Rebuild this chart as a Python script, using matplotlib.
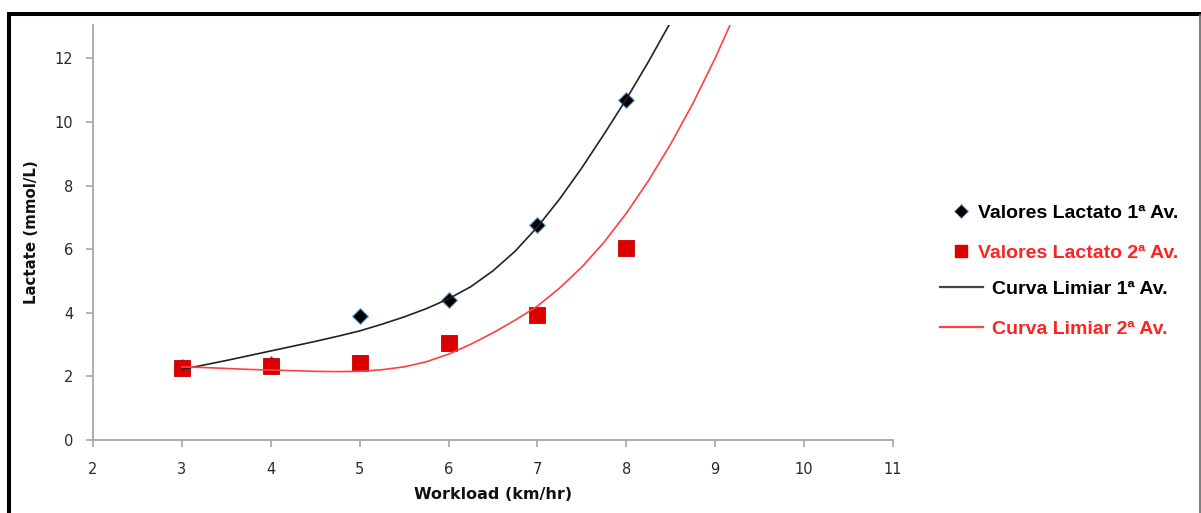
import matplotlib
matplotlib.use("Agg")
import matplotlib.pyplot as plt
from matplotlib.lines import Line2D

# measured points
workload = [3, 4, 5, 6, 7, 8]
lactate_av1 = [2.30, 2.40, 3.90, 4.40, 6.76, 10.68]
lactate_av2 = [2.26, 2.34, 2.43, 3.04, 3.93, 6.03]

# threshold curves
curve1_x = [3.0, 3.25, 3.5, 3.75, 4.0, 4.25, 4.5, 4.75, 5.0, 5.25, 5.5, 5.75,
            6.0, 6.25, 6.5, 6.75, 7.0, 7.25, 7.5, 7.75, 8.0, 8.25, 8.5]
curve1_y = [2.22, 2.36, 2.50, 2.65, 2.80, 2.95, 3.10, 3.26, 3.43, 3.64, 3.87, 4.13,
            4.44, 4.82, 5.32, 5.94, 6.70, 7.58, 8.56, 9.62, 10.72, 11.90, 13.15]
curve2_x = [3.0, 3.25, 3.5, 3.75, 4.0, 4.25, 4.5, 4.75, 5.0, 5.25, 5.5, 5.75,
            6.0, 6.25, 6.5, 6.75, 7.0, 7.25, 7.5, 7.75, 8.0, 8.25, 8.5, 8.75,
            9.0, 9.25]
curve2_y = [2.30, 2.28, 2.25, 2.22, 2.20, 2.18, 2.16, 2.15, 2.16, 2.21, 2.30, 2.46,
            2.70, 3.01, 3.37, 3.77, 4.21, 4.78, 5.44, 6.22, 7.13, 8.16, 9.31, 10.59,
            12.01, 13.57]

labels = ["Valores Lactato 1ª Av.", "Valores Lactato 2ª Av.",
          "Curva Limiar 1ª Av.", "Curva Limiar 2ª Av."]

W, H = 1201, 513
fig = plt.figure(figsize=(W / 100, H / 100), dpi=100)
ax = fig.add_axes([93 / W, 1 - 440 / H, 800 / W, 415 / H])

red_mark = "#DD0000"
red_line = "#FF4040"
red_text = "#FF2222"

ax.plot(workload, lactate_av1, linestyle="none", marker="D", markersize=8,
        color="black", markeredgecolor="#6FA8DC", markeredgewidth=0.8, zorder=3)
ax.plot(workload, lactate_av2, linestyle="none", marker="s", markersize=11,
        color=red_mark, markeredgecolor="#C00000", markeredgewidth=0.6, zorder=4)
ax.plot(curve1_x, curve1_y, color="#222222", linewidth=1.2, zorder=5)
ax.plot(curve2_x, curve2_y, color=red_line, linewidth=1.2, zorder=5)

ax.set_xlim(2, 11)
ax.set_ylim(0, 13.05)
ax.set_xticks(range(2, 12))
ax.set_yticks(range(0, 13, 2))

for side in ["top", "right"]:
    ax.spines[side].set_visible(False)
for side in ["left", "bottom"]:
    ax.spines[side].set_color("#A6A6A6")
    ax.spines[side].set_linewidth(1.3)

ax.tick_params(axis="both", direction="out", length=5, width=1.2,
               color="#A6A6A6", labelsize=10.5, labelcolor="#2A2A2A")
ax.tick_params(axis="y", pad=9)
ax.tick_params(axis="x", pad=10.5)

ax.set_ylabel("Lactate (mmol/L)", fontsize=10.8, fontweight="bold", color="#111111")
ax.yaxis.set_label_coords(-0.068, 0.5)
ax.set_xlabel("Workload (km/hr)", fontsize=11.5, fontweight="bold", color="#111111",
              va="top")
ax.xaxis.set_label_coords(0.5, -0.113)

legend_font = {"family": "Liberation Sans", "weight": "bold", "size": 14}

marker_handles = [
    Line2D([], [], linestyle="none", marker="D", markersize=7, color="black",
           markeredgecolor="#6FA8DC", markeredgewidth=0.6),
    Line2D([], [], linestyle="none", marker="s", markersize=9, color=red_mark),
]
fig.legend(marker_handles, labels[:2], loc="upper left",
           bbox_to_anchor=(952 / W, 1 - 204 / H), frameon=False,
           prop=legend_font, handlelength=0.9, handletextpad=0.45,
           borderpad=0, borderaxespad=0, labelspacing=1.15,
           labelcolor=["black", red_text])

line_handles = [
    Line2D([], [], color="#444444", linewidth=1.6),
    Line2D([], [], color=red_line, linewidth=1.6),
]
fig.legend(line_handles, labels[2:], loc="upper left",
           bbox_to_anchor=(940 / W, 1 - 280 / H), frameon=False,
           prop=legend_font, handlelength=2.2, handletextpad=0.5,
           borderpad=0, borderaxespad=0, labelspacing=1.15,
           labelcolor=["black", red_text])

# page frame around the chart
fig.add_artist(Line2D([7 / W, 1], [1 - 14 / H, 1 - 14 / H], color="black",
                      linewidth=2.9, solid_capstyle="butt",
                      transform=fig.transFigure))
fig.add_artist(Line2D([9 / W, 9 / W], [0, 1 - 14 / H], color="black",
                      linewidth=2.9, solid_capstyle="butt",
                      transform=fig.transFigure))
fig.add_artist(Line2D([1199.5 / W, 1199.5 / W], [0, 1 - 14 / H], color="#666666",
                      linewidth=1.2, solid_capstyle="butt",
                      transform=fig.transFigure))

fig.savefig("out.png", dpi=100)
